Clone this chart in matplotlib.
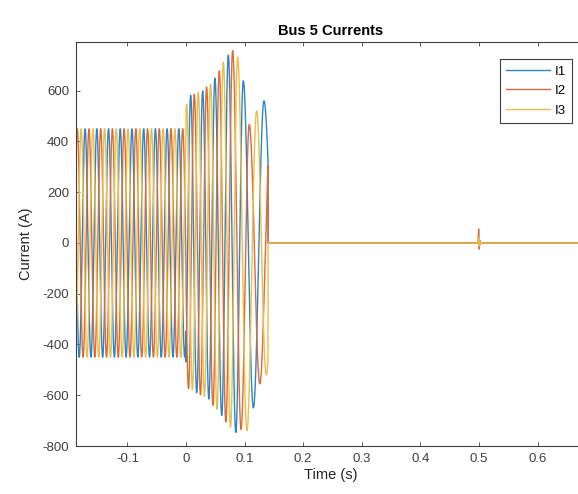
import numpy as np
import matplotlib
matplotlib.use('Agg')
import matplotlib.pyplot as plt

plt.rcParams['font.family'] = ['Liberation Sans', 'DejaVu Sans']
plt.rcParams['axes.unicode_minus'] = False

# Colours (MATLAB default order, slightly washed like the screenshot)
colors = ['#2b86c5', '#dc6a3a', '#eebd45']
labels = ['I1', 'I2', 'I3']

# Pre-fault steady state: 50 Hz, 450 A peak
pre_amp = 450
pre_freq = 50
pre_peak_time = [0.0078, 0.0144, 0.0011]   # one positive peak per phase

fault_time = 0.0
clear_time = 0.14

# Post-fault extrema (time s, current A), per phase
i1_ext_t = [-0.002, 0.008, 0.0183, 0.0285, 0.039, 0.0494, 0.061, 0.0722, 0.085, 0.0978, 0.115, 0.1331, 0.155]
i1_ext_v = [-580, 582, -590, 599, -615, 649, -680, 740, -747, 639, -650, 560, -500]

i2_ext_t = [-0.0057, 0.0043, 0.0142, 0.0247, 0.0352, 0.046, 0.0568, 0.068, 0.0796, 0.094, 0.108, 0.126, 0.144]
i2_ext_v = [560, -574, 586, -598, 614, -640, 678, -705, 758, -735, 467, -555, 420]

i3_ext_t = [-0.009, 0.0011, 0.011, 0.021, 0.0315, 0.042, 0.053, 0.0637, 0.076, 0.0881, 0.104, 0.1206, 0.137, 0.155]
i3_ext_v = [-540, 546, -578, 594, -605, 626, -655, 713, -725, 733, -740, 520, -520, 400]

ext_t = [i1_ext_t, i2_ext_t, i3_ext_t]
ext_v = [i1_ext_v, i2_ext_v, i3_ext_v]

# Small disturbance near t = 0.5 s (per phase)
spike_t = [0.4985, 0.4995, 0.5005, 0.5015, 0.503, 0.506]
spike_v = [
    [0, 8, -6, 4, -2, 0],
    [0, 55, -24, 10, -4, 0],
    [0, 20, -12, 6, -3, 0],
]

t_start, t_end = -0.1877, 0.681


def cos_interp(t, tk, vk):
    # half-cosine between successive extrema
    tk = np.asarray(tk)
    vk = np.asarray(vk, dtype=float)
    idx = np.clip(np.searchsorted(tk, t) - 1, 0, len(tk) - 2)
    t0, t1 = tk[idx], tk[idx + 1]
    v0, v1 = vk[idx], vk[idx + 1]
    frac = np.clip((t - t0) / (t1 - t0), 0, 1)
    return (v0 + v1) / 2 + (v0 - v1) / 2 * np.cos(np.pi * frac)


t = np.linspace(t_start, t_end, 30000)

fig = plt.figure(figsize=(5.78, 4.94), dpi=100)
ax = fig.add_axes([76 / 578, 1 - 446 / 494, (585 - 76) / 578, (446 - 42) / 494])

for k in range(3):
    y = np.zeros_like(t)
    pre = t < fault_time
    y[pre] = pre_amp * np.cos(2 * np.pi * pre_freq * (t[pre] - pre_peak_time[k]))
    post = (t >= fault_time) & (t < clear_time)
    y[post] = cos_interp(t[post], ext_t[k], ext_v[k])
    y += np.interp(t, spike_t, spike_v[k], left=0, right=0)
    ax.plot(t, y, color=colors[k], linewidth=1.0, label=labels[k])

ax.set_xlim(t_start, t_end)
ax.set_ylim(-800, 792)
ax.set_xticks([-0.1, 0, 0.1, 0.2, 0.3, 0.4, 0.5, 0.6])
ax.set_xticklabels(['-0.1', '0', '0.1', '0.2', '0.3', '0.4', '0.5', '0.6'])
ax.set_yticks([-800, -600, -400, -200, 0, 200, 400, 600])

ax.tick_params(direction='in', top=True, right=True, length=3, width=0.6,
               labelsize=9.5, colors='#404040', labelcolor='#404040', pad=5)
for sp in ax.spines.values():
    sp.set_color('#404040')
    sp.set_linewidth(0.8)

ax.set_xlabel('Time (s)', fontsize=10.5, color='#262626', labelpad=2)
ax.set_ylabel('Current (A)', fontsize=10.5, color='#262626', labelpad=7)
ax.set_title('Bus 5 Currents', fontsize=10.5, fontweight='bold', pad=5)

leg = ax.legend(loc='upper right', bbox_to_anchor=(0.988, 0.975), fontsize=9.5,
                handlelength=3.3, handletextpad=0.35, borderpad=0.5,
                labelspacing=0.55, fancybox=False, framealpha=1)
leg.get_frame().set_edgecolor('#404040')
leg.get_frame().set_linewidth(0.8)

fig.savefig('out.png', dpi=100)
